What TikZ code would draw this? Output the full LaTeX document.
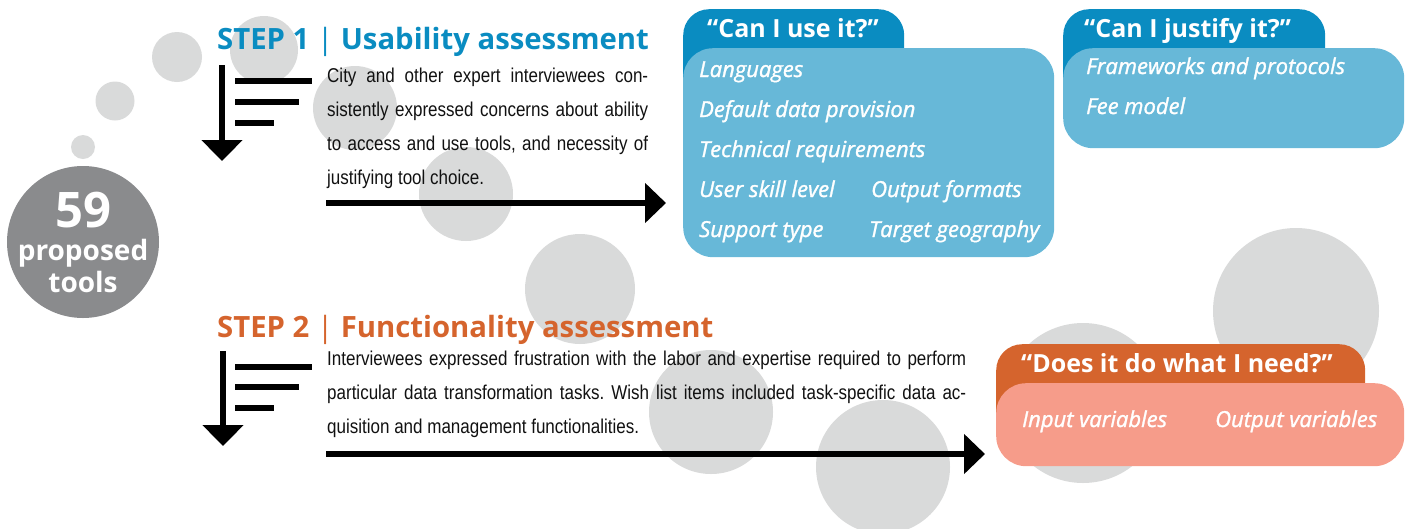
\documentclass[tikz,border=0pt]{standalone}
\usepackage{fontspec}
\setmainfont{Open Sans}
\newfontfamily\bodyfont[FakeStretch=0.85]{Liberation Sans}
\newfontfamily\itemfont[FakeBold=1.4, ItalicFeatures={FakeBold=1.4}]{Open Sans}
\usetikzlibrary{arrows.meta}

\definecolor{bubblegray}{HTML}{D9DADA}
\definecolor{toolgray}{HTML}{8A8B8D}
\definecolor{usablue}{HTML}{0A8CC1}
\definecolor{usalight}{HTML}{67B8D8}
\definecolor{funcorange}{HTML}{D5642D}
\definecolor{funclight}{HTML}{F69C8A}
\definecolor{bodyblack}{HTML}{111111}

\tikzset{
  bubble/.style={circle, fill=bubblegray, inner sep=0pt, minimum size=#1},
  heading/.style={anchor=base west, inner sep=0pt, font=\bfseries\fontsize{29.3}{34}\selectfont},
  bodytext/.style={anchor=base west, inner sep=0pt, text=bodyblack,
    font=\bodyfont\frenchspacing\fontsize{20}{34.3}\selectfont},
  tabbox/.style={anchor=north west, rectangle, rounded corners=26pt,
    minimum width=#1, minimum height=110pt, inner sep=0pt},
  itembox/.style={anchor=north west, rectangle, rounded corners=30pt, inner sep=0pt},
  tabtitle/.style={anchor=base west, inner sep=0pt, text=white,
    font=\bfseries\fontsize{25}{28}\selectfont},
  item/.style={anchor=base west, inner sep=0pt, text=white,
    font=\itemfont\itshape\fontsize{22}{24}\selectfont},
  bignum/.style={anchor=base, inner sep=0pt, text=white, font=\bfseries\fontsize{49}{50}\selectfont},
  bigword/.style={anchor=base, inner sep=0pt, text=white, font=\bfseries\fontsize{28}{30}\selectfont},
  flowarrow/.style={line width=5.5pt, -{Triangle[length=21pt,width=39pt]}},
  downarrow/.style={line width=5.5pt, -{Triangle[length=21pt,width=40pt]}},
  listbar/.style={line width=6pt},
}

\begin{document}
\begin{tikzpicture}[x=1pt,y=-1pt]
\useasboundingbox (0,0) rectangle (1408,528);

% light bubbles in the background
\node[bubble=24pt]  (b1)  at (83,147)  {};
\node[bubble=39pt]  (b2)  at (115,101) {};
\node[bubble=50pt]  (b3)  at (177,57)  {};
\node[bubble=68pt]  (b4)  at (264,50)  {};
\node[bubble=84pt]  (b5)  at (355,108) {};
\node[bubble=94pt]  (b6)  at (466,194) {};
\node[bubble=110pt] (b7)  at (580,289) {};
\node[bubble=124pt] (b8)  at (711,412) {};
\node[bubble=134pt] (b9)  at (883,467) {};
\node[bubble=160pt] (b10) at (1083,403) {};
\node[bubble=166pt] (b11) at (1296,311) {};

% tool count
\node[circle, fill=toolgray, minimum size=152pt, inner sep=0pt] (tools) at (83,242) {};
\node[bignum]  (n59)  at (83,227) {59};
\node[bigword] (prop) at (83,260) {proposed};
\node[bigword] (tls)  at (83,292) {tools};

% ---------- step 1 ----------
\node[heading, text=usablue] (h1) at (217,49) {STEP 1 {\mdseries|} Usability assessment};
\coordinate (d1top) at (222,65);
\coordinate (d1tip) at (222,161);
\draw[downarrow] (d1top) -- (d1tip);
\draw[listbar] (235,81)  -- (312,81);
\draw[listbar] (235,102) -- (299,102);
\draw[listbar] (235,123) -- (274,123);

\node[bodytext] (t1) at (327,82) {\parbox[t]{321pt}{%
\makebox[\linewidth][s]{City and other expert interviewees con-}\\
\makebox[\linewidth][s]{sistently expressed concerns about ability}\\
\makebox[\linewidth][s]{to access and use tools, and necessity of}\\
justifying tool choice.}};

% "Can I use it?" card
\node[tabbox=221pt, fill=usablue] (usetab) at (683,9) {};
\node[itembox, fill=usalight, minimum width=371pt, minimum height=209pt] (use) at (683,48) {};
\node[tabtitle] (usetitle) at (707,37) {“Can I use it?”};
\node[item] (u1) at (699,77)  {Languages};
\node[item] (u2) at (699,117) {Default data provision};
\node[item] (u3) at (699,157) {Technical requirements};
\node[item] (u4) at (699,197) {User skill level};
\node[item] (u5) at (871,197) {Output formats};
\node[item] (u6) at (699,237) {Support type};
\node[item] (u7) at (869,237) {Target geography};

% "Can I justify it?" card
\node[tabbox=262pt, fill=usablue] (justab) at (1063,9) {};
\node[itembox, fill=usalight, minimum width=341pt, minimum height=100pt] (jus) at (1063,48) {};
\node[tabtitle] (justitle) at (1084,37) {“Can I justify it?”};
\node[item] (j1) at (1086,74)  {Frameworks and protocols};
\node[item] (j2) at (1086,114) {Fee model};

\coordinate (a1start) at (326,203);
\draw[flowarrow, shorten >=17pt] (a1start) -- (a1start -| use.west);

% ---------- step 2 ----------
\node[heading, text=funcorange] (h2) at (217,337) {STEP 2 {\mdseries|} Functionality assessment};
\coordinate (d2top) at (223,351);
\coordinate (d2tip) at (223,446);
\draw[downarrow] (d2top) -- (d2tip);
\draw[listbar] (235,367) -- (312,367);
\draw[listbar] (235,387) -- (299,387);
\draw[listbar] (235,408) -- (274,408);

\node[bodytext] (t2) at (327,365) {\parbox[t]{639pt}{%
\makebox[\linewidth][s]{Interviewees expressed frustration with the labor and expertise required to perform}\\
\makebox[\linewidth][s]{particular data transformation tasks. Wish list items included task-specific data ac-}\\
quisition and management functionalities.}};

% "Does it do what I need?" card
\node[tabbox=369pt, fill=funcorange] (needtab) at (996,344) {};
\node[itembox, fill=funclight, minimum width=408pt, minimum height=83pt] (need) at (996,383) {};
\node[tabtitle] (needtitle) at (1021,372) {“Does it do what I need?”};
\node[item] (o1) at (1022,427) {Input variables};
\node[item] (o2) at (1215,427) {Output variables};

\coordinate (a2start) at (326,454);
\draw[flowarrow, shorten >=11pt] (a2start) -- (a2start -| need.west);
\end{tikzpicture}
\end{document}
